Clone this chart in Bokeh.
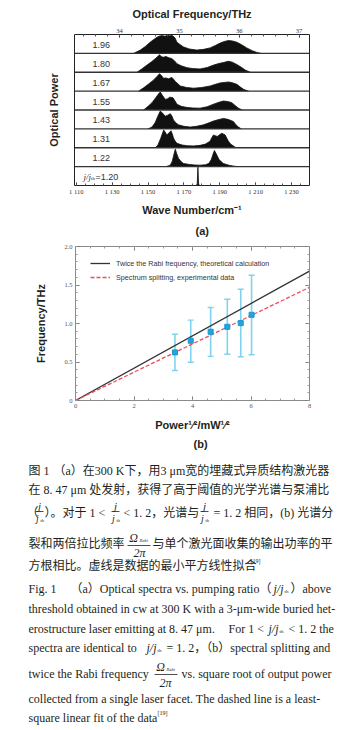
import math
from bokeh.plotting import figure
from bokeh.models import (Range1d, LinearAxis, FixedTicker, Label, Span, Legend, LegendItem,
                          ColumnDataSource, Whisker, TeeHead, Title, CustomJSTickFormatter)
from bokeh.layouts import column
from bokeh.embed import file_html
from bokeh.resources import INLINE
from bokeh.core.properties import value

# ---------------- data: panel (a) spectra (wave number, relative height) ----------------
ratio_labels = ["1.22", "1.31", "1.43", "1.55", "1.67", "1.80", "1.96"]   # rows 1..7 from bottom

wn_120 = [1176.5, 1177.4, 1177.8, 1178.2, 1179.0]
h_120 = [0.0, 0.05, 1.0, 0.05, 0.0]

wn_122 = [1160, 1162.4, 1163.5, 1164.5, 1165.2, 1166, 1167, 1168.5, 1169.8, 1173, 1176, 1179,
          1182, 1184, 1185.3, 1186.3, 1187, 1188, 1189.5, 1191, 1192, 1195, 1197.6, 1200]
h_122 = [0, 0.08, 0.3, 0.7, 0.95, 0.7, 0.45, 0.27, 0.17, 0.12, 0.09, 0.08,
         0.1, 0.18, 0.4, 0.7, 0.88, 0.7, 0.4, 0.25, 0.17, 0.08, 0.03, 0]

wn_131 = [1154, 1155.5, 1157, 1158.7, 1159.6, 1160.5, 1161.7, 1162.8, 1163.5, 1164.2, 1165,
          1166.1, 1169, 1172, 1175.4, 1179, 1182, 1184.6, 1185.5, 1186.5, 1187.6, 1188.7, 1190,
          1191.2, 1192.2, 1193, 1194, 1194.8, 1196, 1197.6, 1199]
h_131 = [0, 0.15, 0.5, 0.97, 0.85, 0.7, 0.82, 0.93, 0.75, 0.53, 0.38,
         0.24, 0.15, 0.11, 0.1, 0.13, 0.2, 0.36, 0.55, 0.7, 0.65, 0.62, 0.72,
         0.79, 0.74, 0.7, 0.5, 0.36, 0.2, 0.1, 0]

wn_143 = [1150, 1152.2, 1154, 1155.5, 1156.8, 1158.2, 1159.6, 1161, 1162.4, 1163.3, 1164.2,
          1165.5, 1167, 1170, 1173.5, 1177, 1180.9, 1184, 1186.5, 1189, 1192, 1194.5, 1197.6,
          1199, 1200.4, 1202]
h_143 = [0, 0.1, 0.35, 0.7, 0.97, 0.85, 0.69, 0.75, 0.83, 0.7, 0.48,
         0.33, 0.22, 0.14, 0.1, 0.14, 0.22, 0.33, 0.43, 0.5, 0.57, 0.52, 0.4,
         0.22, 0.1, 0]

wn_155 = [1147.5, 1150, 1152.2, 1154.5, 1156, 1156.8, 1158, 1159.6, 1161, 1162, 1163.9, 1165,
          1166.1, 1168.5, 1171.7, 1175, 1179, 1183, 1186.5, 1189.5, 1192, 1194.5, 1196.7, 1198.5,
          1200.4, 1202.5]
h_155 = [0, 0.2, 0.4, 0.7, 0.9, 0.98, 0.8, 0.58, 0.62, 0.7, 0.67, 0.5,
         0.32, 0.2, 0.14, 0.11, 0.1, 0.18, 0.32, 0.42, 0.49, 0.46, 0.4, 0.25,
         0.1, 0]

wn_167 = [1144.7, 1147.5, 1150.3, 1153, 1155, 1156.4, 1157.5, 1158.6, 1160, 1161.4, 1163.3,
          1164.2, 1165.2, 1168, 1171.5, 1175.4, 1180, 1184.6, 1187.5, 1190.2, 1194.8, 1197,
          1199.5, 1201.5, 1203.2, 1206]
h_167 = [0, 0.18, 0.39, 0.6, 0.8, 0.95, 0.85, 0.7, 0.72, 0.67, 0.75,
         0.65, 0.53, 0.28, 0.2, 0.16, 0.2, 0.28, 0.37, 0.45, 0.5, 0.46,
         0.37, 0.22, 0.1, 0]

wn_180 = [1143.8, 1146.5, 1149.4, 1152, 1154, 1156.4, 1157.5, 1158.5, 1160, 1161.3, 1163.3,
          1164.8, 1166.1, 1168.5, 1171.7, 1175, 1179, 1183, 1186.5, 1189.5, 1192, 1194.8, 1197,
          1199.5, 1202, 1204.2, 1207]
h_180 = [0, 0.18, 0.39, 0.58, 0.74, 0.95, 0.85, 0.82, 0.86, 0.8, 0.74,
         0.62, 0.47, 0.35, 0.25, 0.2, 0.18, 0.26, 0.39, 0.48, 0.53, 0.6, 0.55,
         0.42, 0.27, 0.12, 0]

wn_196 = [1141.9, 1145.7, 1148.5, 1151.2, 1153, 1155, 1156.5, 1158, 1159.5, 1160.7, 1162,
          1163.5, 1165, 1166.1, 1168, 1169.8, 1173, 1177.2, 1181, 1184.6, 1187.5, 1190.2,
          1192.5, 1194.8, 1197, 1199.5, 1202, 1205, 1208, 1210.7, 1213]
h_196 = [0, 0.18, 0.38, 0.61, 0.75, 0.88, 0.95, 0.97, 0.93, 1.0, 0.96,
         0.98, 0.85, 0.61, 0.47, 0.35, 0.24, 0.18, 0.22, 0.3, 0.43, 0.56,
         0.65, 0.7, 0.68, 0.61, 0.48, 0.3, 0.15, 0.05, 0]

spectra = [(wn_120, h_120), (wn_122, h_122), (wn_131, h_131), (wn_143, h_143),
           (wn_155, h_155), (wn_167, h_167), (wn_180, h_180), (wn_196, h_196)]

wn_ticks = [1110, 1130, 1150, 1170, 1190, 1210, 1230]
wn_tick_labels = ["1 110", "1 130", "1 150", "1 170", "1 190", "1 210", "1 230"]
thz_ticks = [34, 35, 36, 37]

# ---------------- data: panel (b) ----------------
power = [3.40, 3.94, 4.62, 5.19, 5.65, 6.02]
splitting = [0.625, 0.776, 0.893, 0.957, 1.005, 1.113]
err_hi = [0.86, 1.044, 1.207, 1.315, 1.445, 1.626]
err_lo = [0.39, 0.496, 0.573, 0.60, 0.569, 0.595]
line_x = [0, 8]
rabi_freq = [0, 1.68]
fit_freq = [0, 1.47]
freq_ticks = [0, 0.5, 1.0, 1.5, 2.0]
freq_tick_labels = ["0", "0.5", "1.0", "1.5", "2.0"]
pow_ticks = [0, 2, 4, 6, 8]

W = 339
SANS = "Liberation Sans"
SERIF = "Liberation Serif"
CJK = "Liberation Serif, Noto Sans CJK SC"
TXT = "#231f20"


def style_label(ax, standoff):
    ax.axis_label_text_font = SANS
    ax.axis_label_text_font_size = "11px"
    ax.axis_label_text_font_style = "bold"
    ax.axis_label_text_color = TXT
    ax.axis_label_standoff = standoff


# ================= panel (a) =================
A_H = 240
WN0, WN1 = 1109.0, 1240.0
C = 0.0299792458
pa = figure(width=W, height=A_H, x_range=Range1d(WN0, WN1), y_range=Range1d(0, 8),
            output_backend="svg", toolbar_location=None,
            x_axis_location=None, y_axis_location=None,
            min_border_left=74, min_border_right=30, min_border_top=34, min_border_bottom=A_H - 189)
pa.frame_align = False
pa.grid.visible = False
pa.outline_line_color = "#222"
pa.outline_line_width = 1
pa.background_fill_color = "white"
pa.border_fill_color = "white"
pa.extra_x_ranges = {"thz": Range1d(WN0 * C, WN1 * C)}

bax = LinearAxis(ticker=FixedTicker(ticks=wn_ticks, minor_ticks=list(range(1110, 1240, 5))),
                 major_label_overrides={t: l for t, l in zip(wn_ticks, wn_tick_labels)},
                 axis_label="Wave Number/cm\u207b\u00b9")
tax = LinearAxis(x_range_name="thz",
                 ticker=FixedTicker(ticks=thz_ticks,
                                    minor_ticks=[round(33.4 + 0.2 * i, 1) for i in range(19)]),
                 axis_label="Optical Frequency/THz")
for ax in (bax, tax):
    ax.axis_line_color = None
    ax.major_tick_in = 3
    ax.major_tick_out = 0
    ax.minor_tick_in = 2
    ax.minor_tick_out = 0
    ax.major_tick_line_color = "#222"
    ax.minor_tick_line_color = "#555"
    ax.major_label_text_font = SERIF
    ax.major_label_text_font_size = "6.5px"
    ax.major_label_text_color = "#333"
    ax.major_label_standoff = 2
    style_label(ax, 6)
pa.add_layout(bax, "below")
pa.add_layout(tax, "above")
lya = LinearAxis(ticker=FixedTicker(ticks=[]), axis_line_color=None, major_tick_out=0,
                 major_tick_in=0, major_label_standoff=0, axis_label="Optical Power")
style_label(lya, 15)
pa.add_layout(lya, "left")
pa.add_layout(Title(text="(a)", align="left", offset=121, text_font=SANS, text_font_size="11px",
                    text_font_style="bold", text_color=TXT, standoff=8), "below")

for k in range(1, 8):
    pa.add_layout(Span(location=k, dimension="width", line_color="#333", line_width=1.3))

for k, (wn, h) in enumerate(spectra):
    base = [k] * len(wn)
    top = [k + 0.97 * v for v in h]
    pa.varea(x=wn, y1=base, y2=top, fill_color="#111")
    pa.line(x=wn, y=top, line_color="#111", line_width=0.8)


def ax_a(px):
    return WN0 + (px - 74) * (WN1 - WN0) / 235.0


def ay_a(py):
    return (189 - py) * 8 / 155.0


def lab(p, x, y, text, size, font=SANS, style="normal", color=TXT, align="left",
        baseline="middle", angle=0):
    p.add_layout(Label(x=x, y=y, text=text, text_font=font, text_font_size=f"{size}px",
                       text_font_style=style, text_color=color, text_align=align,
                       text_baseline=baseline, angle=angle))


row_mid = [189 - 19.375 * (k + 0.5) for k in range(8)]
for k, t in enumerate(ratio_labels, start=1):
    lab(pa, ax_a(92), ay_a(row_mid[k] + 1), t, 9, color="#333")
lab(pa, ax_a(83), ay_a(row_mid[0] + 1), "j/j", 9, font=SERIF, style="italic", color="#333")
lab(pa, ax_a(90.5), ay_a(row_mid[0] + 3), "th", 5, font=SERIF, color="#333")
lab(pa, ax_a(95), ay_a(row_mid[0] + 1), "=1.20", 9, color="#333")

# ================= panel (b) =================
B_Y0 = 240
B_H = 220
pb = figure(width=W, height=B_H, x_range=Range1d(0, 8), y_range=Range1d(0, 2),
            output_backend="svg", toolbar_location=None,
            x_axis_location=None, y_axis_location=None,
            min_border_left=75, min_border_right=30, min_border_top=246 - B_Y0,
            min_border_bottom=B_Y0 + B_H - 400)
pb.frame_align = False
pb.grid.visible = False
pb.outline_line_color = "#8a8a8a"
pb.outline_line_width = 1
pb.background_fill_color = "white"
pb.border_fill_color = "white"

yminor = [round(0.1 * i, 1) for i in range(21)]
xminor = [0.5 * i for i in range(17)]
blank = CustomJSTickFormatter(code="return '';")
lax = LinearAxis(ticker=FixedTicker(ticks=freq_ticks, minor_ticks=yminor),
                 major_label_overrides={t: l for t, l in zip(freq_ticks, freq_tick_labels)},
                 axis_label="Frequency/THz")
rax = LinearAxis(ticker=FixedTicker(ticks=freq_ticks, minor_ticks=yminor), formatter=blank)
bbx = LinearAxis(ticker=FixedTicker(ticks=pow_ticks, minor_ticks=xminor),
                 axis_label="Power\u00b9\u2044\u00b2/mW\u00b9\u2044\u00b2")
tbx = LinearAxis(ticker=FixedTicker(ticks=pow_ticks, minor_ticks=xminor), formatter=blank)
for ax in (lax, rax, bbx, tbx):
    ax.axis_line_color = "#8a8a8a"
    ax.major_tick_in = 4
    ax.major_tick_out = 0
    ax.minor_tick_in = 2
    ax.minor_tick_out = 0
    ax.major_tick_line_color = "#777"
    ax.minor_tick_line_color = "#999"
    ax.major_label_text_font = SERIF
    ax.major_label_text_font_size = "6.5px"
    ax.major_label_text_color = "#555"
    ax.major_label_standoff = 3
for ax in (rax, tbx):
    ax.major_label_standoff = 0
style_label(lax, 14)
style_label(bbx, 8)
pb.add_layout(lax, "left")
pb.add_layout(rax, "right")
pb.add_layout(bbx, "below")
pb.add_layout(tbx, "above")
pb.add_layout(Title(text="(b)", align="left", offset=118, text_font=SANS, text_font_size="11px",
                    text_font_style="bold", text_color=TXT, standoff=4), "below")

src = ColumnDataSource(dict(x=power, y=splitting, upper=err_hi, lower=err_lo))
EB = "#80d2ee"
wh = Whisker(source=src, base="x", upper="upper", lower="lower", line_color=EB, line_width=1.6,
             upper_head=TeeHead(size=6, line_color=EB, line_width=1.4),
             lower_head=TeeHead(size=6, line_color=EB, line_width=1.4), level="underlay")
pb.add_layout(wh)
r_black = pb.line(x=line_x, y=rabi_freq, line_color="#333333", line_width=1.3)
r_red = pb.line(x=line_x, y=fit_freq, line_color="#e8505b", line_width=1.3, line_dash="4 2")
pb.scatter(x="x", y="y", source=src, marker="square", size=5, fill_color="#1fa6df",
           line_color="#1a96d0")

leg = Legend(items=[LegendItem(label="Twice the Rabi frequency, theoretical calculation",
                               renderers=[r_black]),
                    LegendItem(label="Spectrum splitting, experimental data", renderers=[r_red])],
             location=(15, 116), border_line_color=None, background_fill_alpha=0,
             padding=0, margin=0, spacing=0, label_height=14, glyph_height=14, glyph_width=20,
             label_standoff=6, label_text_font=SANS, label_text_font_size="7.2px",
             label_text_color="#333")
pb.add_layout(leg)

# ================= caption =================
C_Y0 = 460
C_H = 730 - C_Y0
pc = figure(frame_width=W, frame_height=C_H, x_range=Range1d(0, W), y_range=Range1d(0, C_H),
            output_backend="svg", toolbar_location=None,
            x_axis_location=None, y_axis_location=None,
            min_border_left=0, min_border_right=0, min_border_top=0, min_border_bottom=0)
pc.frame_align = False
pc.grid.visible = False
pc.outline_line_color = None
pc.background_fill_color = "white"
pc.border_fill_color = "white"

cap = dict(x=[], y=[], text=[], size=[], font=[], style=[], align=[])


def cl(x, y, text, size=12, font=CJK, style="normal", align="left"):
    cap["x"].append(x)
    cap["y"].append(C_Y0 + C_H - y)
    cap["text"].append(text)
    cap["size"].append(f"{size}px")
    cap["font"].append(font)
    cap["style"].append(style)
    cap["align"].append(align)


bars = dict(x0=[], x1=[], y=[])


def frac_j(cx, y):
    cl(cx, y - 7, "j", 11, font=SERIF, style="italic", align="center")
    cl(cx - 2, y + 6, "j", 10, font=SERIF, style="italic", align="center")
    cl(cx + 1, y + 8, "th", 4.5, font=SERIF)


def frac_bar(x0, x1, y):
    bars["x0"].append(x0)
    bars["x1"].append(x1)
    bars["y"].append(C_Y0 + C_H - y)


# Chinese caption
cl(28, 470, "图 1")
cl(53, 470, "（a）在300 K下，用3 μm宽的埋藏式异质结构激光器")
cl(28, 489, "在 8. 47 μm 处发射，获得了高于阈值的光学光谱与泵浦比")
cl(26, 512, "（")
frac_j(39, 512)
frac_bar(35, 43, 511)
cl(44, 512, "）。对于 1 <")
frac_j(115, 512)
frac_bar(111, 119, 511)
cl(123, 512, "< 1. 2，光谱与")
frac_j(204, 512)
frac_bar(200, 208, 511)
cl(213, 512, "= 1. 2 相同，(b) 光谱分")
cl(28, 543, "裂和两倍拉比频率")
cl(133, 537, "Ω", 12, font=SERIF, style="italic", align="center")
cl(139, 540, "Rabi", 4.5, font=SERIF, style="italic")
frac_bar(127, 150, 545)
cl(139, 552, "2π", 12, font=SERIF, style="italic", align="center")
cl(152, 543, "与单个激光面收集的输出功率的平")
cl(28, 565, "方根相比。虚线是数据的最小平方线性拟合")
cl(250, 560, "[19]", 6, font=SERIF)

# English caption
cl(28, 588, "Fig.  1", font=SERIF)
cl(70, 588, "（a）Optical spectra vs.  pumping ratio（")
cl(273, 588, "j/j", 12, font=SERIF, style="italic")
cl(284, 591, "th", 5, font=SERIF)
cl(290, 588, "）above")
cl(28, 608, "threshold obtained in cw at 300 K with a 3-μm-wide buried het-", font=SERIF)
cl(28, 628, "erostructure laser emitting at 8. 47 μm.", font=SERIF)
cl(228, 628, "For 1 <", font=SERIF)
cl(268, 628, "j/j", 12, font=SERIF, style="italic")
cl(279, 631, "th", 5, font=SERIF)
cl(288, 628, "< 1. 2 the", font=SERIF)
cl(28, 647, "spectra are identical to", font=SERIF)
cl(146, 647, "j/j", 12, font=SERIF, style="italic")
cl(157, 650, "th", 5, font=SERIF)
cl(166, 647, "= 1. 2，（b）spectral splitting and")
cl(28, 673, "twice the Rabi frequency", font=SERIF)
cl(160, 666, "Ω", 12, font=SERIF, style="italic", align="center")
cl(166, 669, "Rabi", 4.5, font=SERIF, style="italic")
frac_bar(154, 177, 674)
cl(165, 682, "2π", 12, font=SERIF, style="italic", align="center")
cl(181, 673, "vs.  square root of output power", font=SERIF)
cl(28, 698, "collected from a single laser facet.  The dashed line is a least-", font=SERIF)
cl(28, 717, "square linear fit of the data", font=SERIF)
cl(157, 712, "[19]", 6, font=SERIF)

pc.text(x="x", y="y", text="text", text_font_size="size", text_font="font",
        text_font_style="style", text_align="align", text_baseline=value("middle"),
        text_color=TXT, source=ColumnDataSource(cap))
pc.segment(x0="x0", y0="y", x1="x1", y1="y", line_color=TXT, line_width=0.8,
           source=ColumnDataSource(bars))

layout = column(pa, pb, pc, spacing=0)
open("out.html", "w").write(file_html(layout, INLINE))
